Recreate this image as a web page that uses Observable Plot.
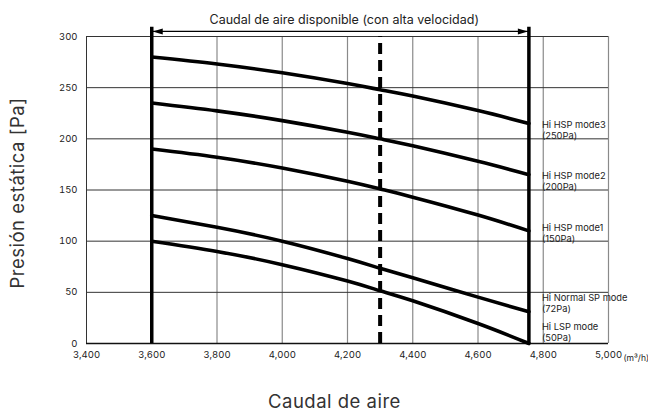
<!DOCTYPE html>
<html><head><meta charset="utf-8">
<script src="https://cdn.jsdelivr.net/npm/d3@7"></script>
<script src="https://cdn.jsdelivr.net/npm/@observablehq/plot@0.6"></script>
<style>body{margin:0;background:#fff}</style>
</head><body><div id="chart"></div>
<script>
// Air flow (m³/h) sample points along each curve
const flow = [3600, 3800, 4000, 4200, 4300, 4400, 4600, 4756];
// Static pressure (Pa) for each mode
const mode3 = [280, 273.2, 264.5, 254, 248, 241.8, 227.6, 215];
const mode2 = [235, 227.3, 217.8, 206.4, 200, 193.2, 178, 165];
const mode1 = [190, 182, 171.5, 158.5, 151, 143, 125.5, 110];
const normalSP = [125, 113.5, 100, 83, 73.5, 64.3, 45.3, 31];
const lowSP = [100, 90, 77, 61, 51.5, 41.7, 19.5, 0];

const modeNames = ["Hi HSP mode3", "Hi HSP mode2", "Hi HSP mode1", "Hi Normal SP mode", "Hi LSP mode"];
const modePressures = ["(250Pa)", "(200Pa)", "(150Pa)", "(72Pa)", "(50Pa)"];
const labelY = [209, 159, 108, 39.5, 11];

const xTicks = [3400, 3600, 3800, 4000, 4200, 4400, 4600, 4800, 5000];
const yTicks = [0, 50, 100, 150, 200, 250, 300];
const flowMin = 3600, flowMax = 4756, ratedFlow = 4300;
const unitLabel = "(m³/h)";
const topTitle = "Caudal de aire disponible (con alta velocidad)";
const xTitle = "Caudal de aire";
const yTitle = "Presión estática [Pa]";

const seriesValues = [mode3, mode2, mode1, normalSP, lowSP];
const rows = seriesValues.flatMap((vals, k) => flow.map((f, i) => ({mode: modeNames[k], flow: f, pressure: vals[i]})));
const labels = modeNames.map((n, k) => ({text: n + "\n" + modePressures[k], y: labelY[k]}));

const arrowHead = { draw(ctx) { ctx.moveTo(5, 0); ctx.lineTo(-5, -3); ctx.lineTo(-5, 3); ctx.closePath(); } };
const font = "Inter, 'Liberation Sans', sans-serif";

const chart = Plot.plot({
  width: 648, height: 419,
  marginLeft: 86, marginRight: 40, marginTop: 36, marginBottom: 76,
  style: {fontFamily: font, fontSize: "9.5px", color: "#222", background: "#fff"},
  x: {domain: [3400, 5000], ticks: xTicks, tickFormat: d3.format(","), tickSize: 0, tickPadding: 8, label: null},
  y: {domain: [0, 300], ticks: yTicks, tickSize: 0, tickPadding: 9, label: null},
  marks: [
    Plot.ruleX(xTicks.slice(1), {y1: 0, y2: 300, stroke: "#8a8a8a", strokeWidth: 1.2}),
    Plot.ruleY(yTicks.slice(1), {x1: 3400, x2: 5000, stroke: "#333", strokeWidth: 1}),
    Plot.ruleX([3400], {y1: 0, y2: 300, stroke: "#333", strokeWidth: 1}),
    Plot.ruleY([0], {x1: 3400, x2: 5000, stroke: "#111", strokeWidth: 1.3}),
    Plot.line(rows, {x: "flow", y: "pressure", z: "mode", stroke: "#000", strokeWidth: 3.6, curve: "natural"}),
    Plot.ruleX([flowMin, flowMax], {y1: 0, y2: 309, stroke: "#000", strokeWidth: 3.5}),
    Plot.ruleX([ratedFlow], {y1: 0, y2: 300, stroke: "#000", strokeWidth: 4, strokeDasharray: "11,6"}),
    Plot.link([0], {x1: flowMin, x2: flowMax, y1: 305, y2: 305, stroke: "#000", strokeWidth: 1.2, insetLeft: 8, insetRight: 8}),
    Plot.dot([flowMin], {x: d => d, y: 305, symbol: arrowHead, fill: "#000", stroke: null, rotate: 180, dx: 6}),
    Plot.dot([flowMax], {x: d => d, y: 305, symbol: arrowHead, fill: "#000", stroke: null, dx: -6}),
    Plot.text([topTitle], {x: 4190, y: 316.5, text: d => d, fontSize: 12.5, fill: "#222"}),
    Plot.text(labels, {x: flowMax, y: "y", text: "text", dx: 13, textAnchor: "start", lineAnchor: "middle", lineHeight: 1.17, fontSize: 9.3, fill: "#222"}),
    Plot.text([unitLabel], {x: 5000, y: 0, text: d => d, dx: 15, dy: 15, textAnchor: "start", fontSize: 8.5, fill: "#222"}),
    Plot.text([yTitle], {frameAnchor: "left", y: 147, text: d => d, dx: -68, rotate: -90, textAnchor: "middle", fontSize: 18.5, fill: "#333"}),
    Plot.text([xTitle], {frameAnchor: "bottom", x: 4160, text: d => d, dy: 64, fontSize: 18.5, fill: "#333"})
  ]
});
d3.select(chart).selectAll("text").filter(function() { return this.textContent === xTitle || this.textContent === yTitle; }).style("letter-spacing", "0.5px");
document.getElementById("chart").append(chart);
</script>
</body></html>
